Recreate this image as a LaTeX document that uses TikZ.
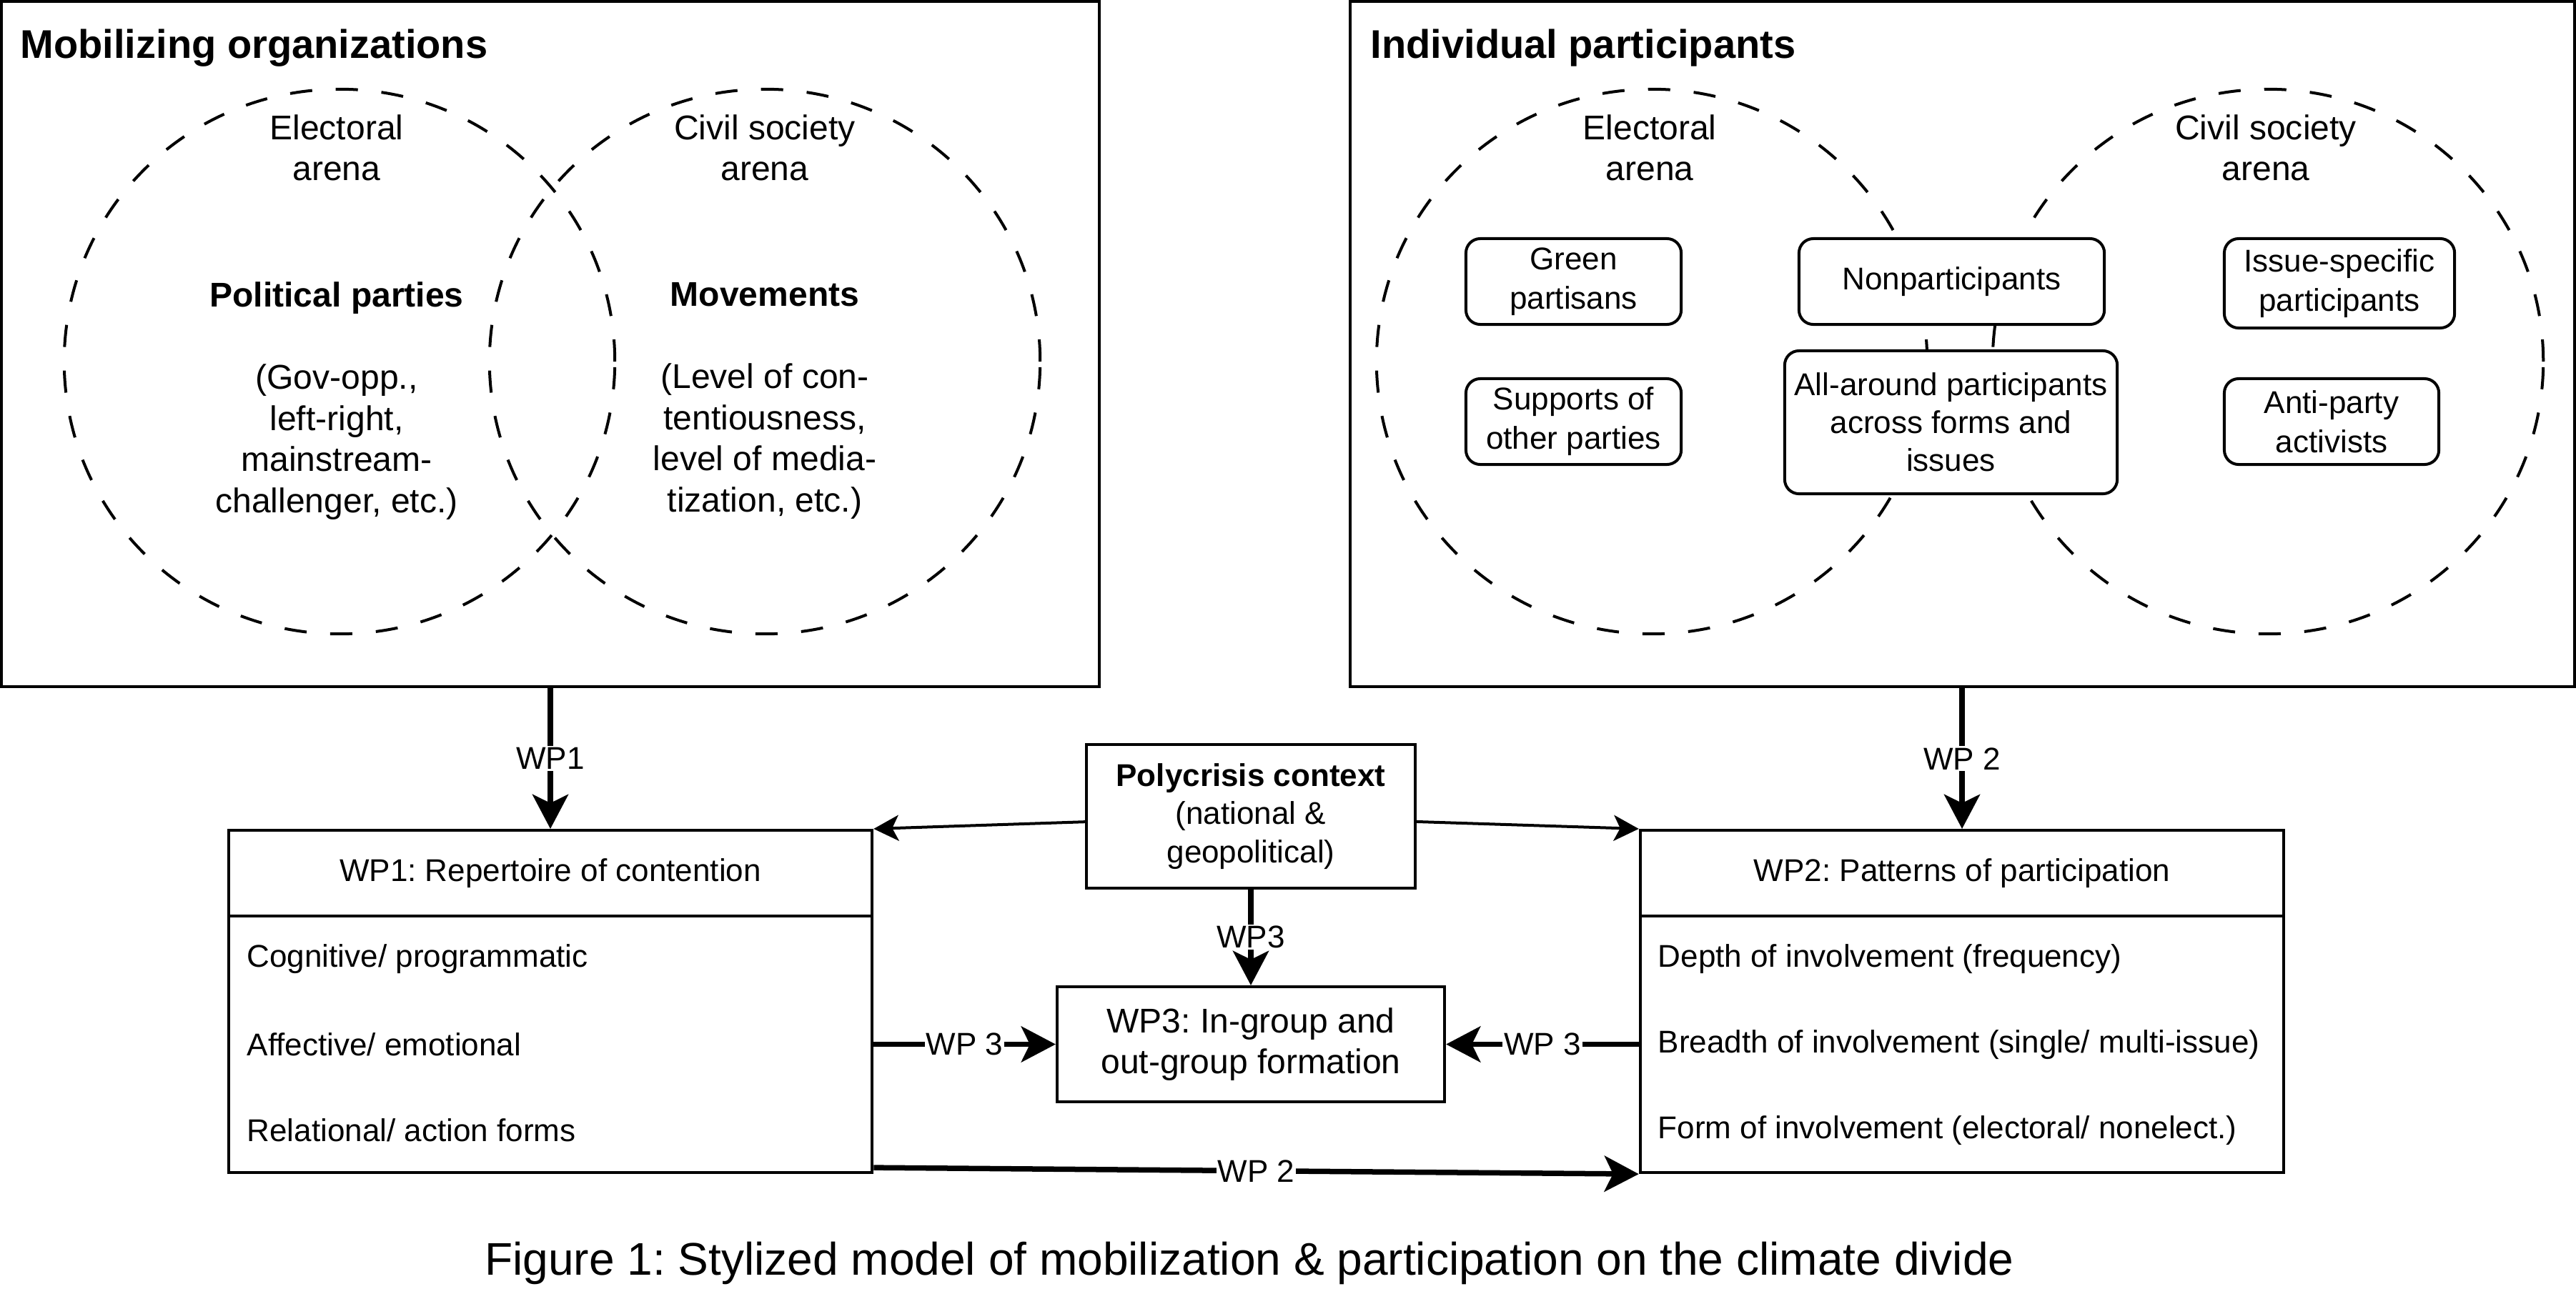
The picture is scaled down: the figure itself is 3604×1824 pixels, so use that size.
\documentclass[tikz,border=0pt]{standalone}
\usepackage{fontspec}
\setmainfont{Liberation Sans}
\usetikzlibrary{arrows.meta,shapes.geometric,calc}
\frenchspacing
\newcommand\fsN{\fontsize{12.52pt}{15.6pt}\selectfont}
\newcommand\fsM{\fontsize{13.66pt}{16.36pt}\selectfont}
\newcommand\fsT{\fontsize{15.93pt}{19.1pt}\selectfont\bfseries}
\newcommand\fsC{\fontsize{18.21pt}{21.85pt}\selectfont}
\begin{document}
\begin{tikzpicture}[x=0.01cm,y=-0.01cm,
  frame/.style={draw, rectangle, line width=0.04cm, inner sep=0pt},
  venn/.style={draw, ellipse, line width=0.04cm, dash pattern=on 0.31cm off 0.33cm,
    minimum width=7.7cm, minimum height=7.62cm, inner sep=0pt},
  rbox/.style={draw, fill=white, rounded corners=0.2cm, line width=0.04cm,
    inner sep=0pt, align=center, font=\fsN},
  sbox/.style={draw, fill=white, rectangle, line width=0.04cm, inner sep=0pt,
    align=center, font=\fsN},
  txt/.style={inner sep=0pt, align=center},
  item/.style={anchor=west, inner sep=0pt, font=\fsN},
  tarr/.style={line width=0.075cm, -{Stealth[length=0.48cm, width=0.5cm, inset=0.12cm]}},
  narr/.style={line width=0.04cm, -{Stealth[length=0.35cm, width=0.36cm, inset=0.09cm]}},
  lbl/.style={fill=white, inner sep=0.02cm, font=\fsN}]
\useasboundingbox (0,0) rectangle (3604,1824);

% outer frames
\node[frame, minimum width=15.36cm, minimum height=9.59cm] (orgs) at (770,481.5) {};
\node[frame, minimum width=17.12cm, minimum height=9.59cm] (indiv) at (2745,481.5) {};
\node[anchor=base west, inner sep=0pt, font=\fsT] (t1) at (28,81) {Mobilizing organizations};
\node[anchor=base west, inner sep=0pt, font=\fsT] (t2) at (1917,81) {Individual participants};

% Venn circles
\node[venn] (eL) at (475,506) {};
\node[venn] (cL) at (1070,506) {};
\node[venn] (eR) at (2311,506) {};
\node[venn] (cR) at (3173,506) {};

% left Venn texts
\node[txt, font=\fsM] (eLl) at (471,207) {Electoral\\arena};
\node[txt, font=\fsM] (cLl) at (1070,207) {Civil society\\arena};
\node[txt, font=\fsM] (pp) at (471,561) {\textbf{Political parties}\\[16.36pt](Gov-opp.,\\left-right,\\mainstream-\\challenger, etc.)};
\node[txt, font=\fsM] (mv) at (1070,561) {\textbf{Movements}\\[16.36pt](Level of con-\\tentiousness,\\level of media-\\tization, etc.)};

% right Venn texts and boxes
\node[txt, font=\fsM] (eRl) at (2308,207) {Electoral\\arena};
\node[txt, font=\fsM] (cRl) at (3170,207) {Civil society\\arena};
\node[rbox, minimum width=3.01cm, minimum height=1.2cm] (green) at (2201.5,394) {Green\\partisans};
\node[rbox, minimum width=3.01cm, minimum height=1.2cm] (supp) at (2201.5,590) {Supports of\\other parties};
\node[rbox, minimum width=4.27cm, minimum height=1.2cm] (nonp) at (2730.5,394) {Nonparticipants};
\node[rbox, minimum width=4.65cm, minimum height=2.0cm, font=\fontsize{12.52pt}{15.1pt}\selectfont] (allp) at (2729.5,591) {All-around participants\\across forms and\\issues};
\node[rbox, minimum width=3.22cm, minimum height=1.25cm] (issp) at (3273,396.5) {Issue-specific\\participants};
\node[rbox, minimum width=3.0cm, minimum height=1.2cm] (anti) at (3262,590) {Anti-party\\activists};

% WP1 box
\node[sbox, minimum width=9cm, minimum height=1.2cm] (wp1h) at (770,1222) {WP1: Repertoire of contention};
\node[sbox, minimum width=9cm, minimum height=3.59cm] (wp1b) at (770,1461.5) {};
\node[item] (c1) at (345,1342) {Cognitive/ programmatic};
\node[item] (a1) at (345,1462) {Affective/ emotional};
\node[item] (r1) at (345,1582) {Relational/ action forms};

% WP2 box
\node[sbox, minimum width=9cm, minimum height=1.2cm] (wp2h) at (2745,1222) {WP2: Patterns of participation};
\node[sbox, minimum width=9cm, minimum height=3.59cm] (wp2b) at (2745,1461.5) {};
\node[item] (d2) at (2319,1342) {Depth of involvement (frequency)};
\node[item] (b2) at (2319,1462) {Breadth of involvement (single/ multi-issue)};
\node[item] (f2) at (2319,1582) {Form of involvement (electoral/ nonelect.)};

% Polycrisis and WP3
\node[sbox, minimum width=4.6cm, minimum height=2.0cm, font=\fontsize{12.52pt}{15.1pt}\selectfont] (poly) at (1750,1142.5) {\textbf{Polycrisis context}\\(national \&\\geopolitical)};
\node[sbox, font=\fsM, minimum width=5.42cm, minimum height=1.61cm] (wp3) at (1750,1461.5) {WP3: In-group and\\out-group formation};

% connectors
\draw[tarr] (orgs.south) -- node[lbl] (l1) {WP1} (wp1h.north);
\draw[tarr] (indiv.south) -- node[lbl] (l2) {WP 2} (wp2h.north);
\draw[narr] (poly) -- (wp1h.north east);
\draw[narr] (poly) -- (wp2h.north west);
\draw[tarr] (poly.south) -- node[lbl] (l3) {WP3} (wp3.north);
\draw[tarr] (wp1b.east) -- node[lbl] (l4) {WP 3} (wp3.west);
\draw[tarr] (wp2b.west) -- node[lbl] (l5) {WP 3} (wp3.east);
\draw[tarr] ($(wp1b.south east)+(0,-9)$) -- node[lbl] (l6) {WP 2} (wp2b.south west);

% caption
\node[anchor=base, inner sep=0pt, font=\fsC] (cap) at (1748,1784) {Figure 1: Stylized model of mobilization \& participation on the climate divide};
\end{tikzpicture}
\end{document}
